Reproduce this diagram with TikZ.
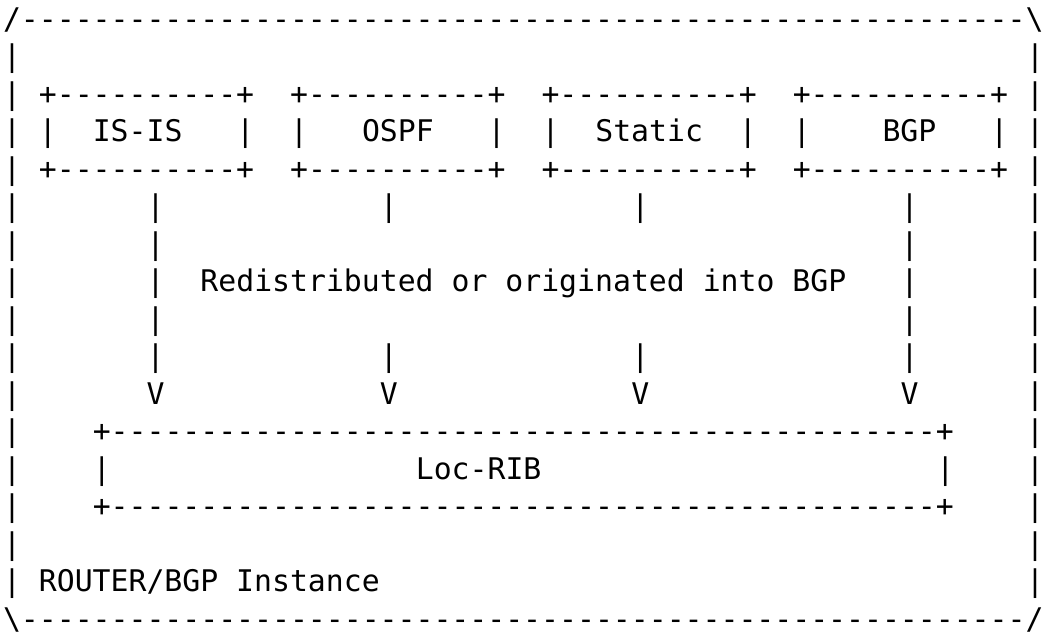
\documentclass[tikz,border=0pt]{standalone}
\usepackage{fontspec}
\setmonofont{DejaVu Sans Mono}
\tikzset{
  asc/.style={anchor=base west, inner sep=0pt, outer sep=0pt,
    font=\ttfamily\fontsize{29.8}{36}\selectfont, text=black},
}
% #1 name, #2 column, #3 line, #4 text
\newcommand\ascii[4]{\node[asc] (#1) at ({3+17.95*(#2)},{29.2+37.5*(#3)}) {#4};}
\begin{document}
\begin{tikzpicture}[x=1pt,y=-1pt]
\useasboundingbox (0,0) rectangle (1045,638);
% outer frame
\ascii{top}{0}{0}{/--------------------------------------------------------\textbackslash}
\ascii{bottom}{0}{16}{\textbackslash--------------------------------------------------------/}
\foreach \l in {1,...,15}{
  \ascii{lb\l}{0}{\l}{|}
  \ascii{rb\l}{57}{\l}{|}
}
% protocol boxes
\foreach \c/\n in {2/isis,16/ospf,30/static,44/bgp}{
  \ascii{\n top}{\c}{2}{+----------+}
  \ascii{\n bot}{\c}{4}{+----------+}
  \ascii{\n l}{\c}{3}{|}
  \ascii{\n r}{\c+11}{3}{|}
}
\ascii{isis}{5}{3}{IS-IS}
\ascii{ospf}{20}{3}{OSPF}
\ascii{static}{33}{3}{Static}
\ascii{bgp}{49}{3}{BGP}
% connectors
\foreach \c/\n in {8/a,21/b,35/c,50/d}{
  \ascii{\n1}{\c}{5}{|}
  \ascii{\n5}{\c}{9}{|}
  \ascii{\n v}{\c}{10}{V}
}
\foreach \c/\n in {8/a,50/d}{
  \ascii{\n2}{\c}{6}{|}
  \ascii{\n3}{\c}{7}{|}
  \ascii{\n4}{\c}{8}{|}
}
\ascii{redist}{11}{7}{Redistributed or originated into BGP}
% Loc-RIB box
\ascii{ribtop}{5}{11}{+----------------------------------------------+}
\ascii{ribbot}{5}{13}{+----------------------------------------------+}
\ascii{ribl}{5}{12}{|}
\ascii{ribr}{52}{12}{|}
\ascii{locrib}{23}{12}{Loc-RIB}
% label
\ascii{router}{2}{15}{ROUTER/BGP Instance}
\end{tikzpicture}
\end{document}
